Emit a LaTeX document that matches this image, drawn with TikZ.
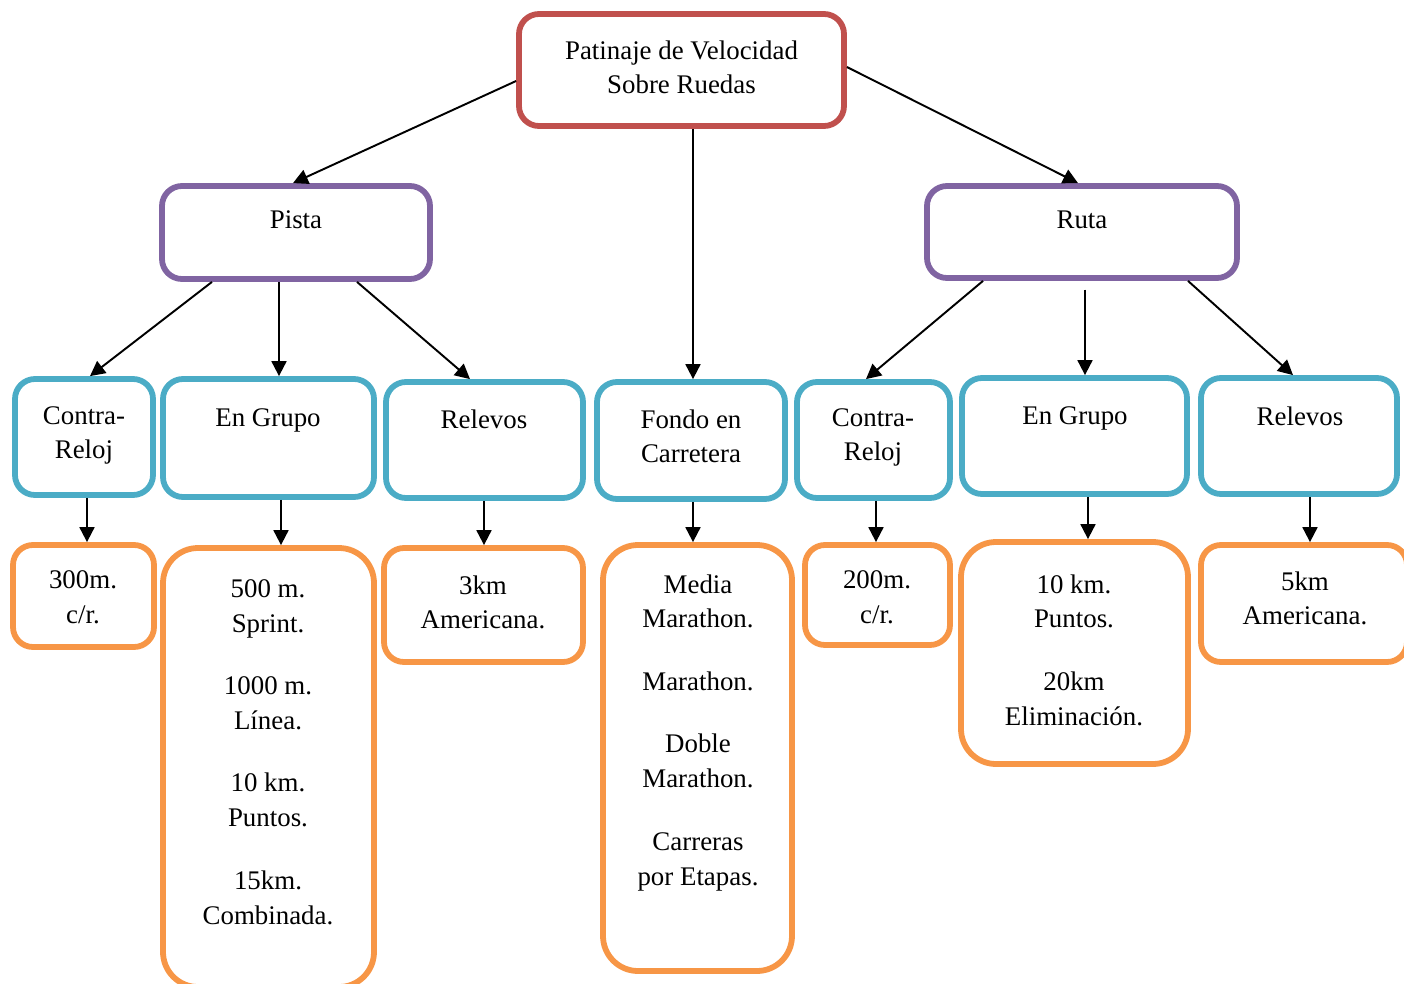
\documentclass[tikz,border=0pt]{standalone}
\usepackage{fontspec}
\setmainfont{Liberation Serif}
\usetikzlibrary{arrows.meta,fit}
\definecolor{cred}{HTML}{C0504D}
\definecolor{cpur}{HTML}{8064A2}
\definecolor{cblu}{HTML}{4BACC6}
\definecolor{cora}{HTML}{F79646}
\newcommand\mybox[6]{\node[#6, fit={(#2+3,#3+3) (#4-3,#5-3)}] (#1) {};}
\begin{document}
\begin{tikzpicture}[x=0.02cm,y=-0.02cm,
  boxbase/.style={draw, line width=3.3pt, inner sep=0pt, rounded corners=0.4cm},
  rootbox/.style={boxbase, draw=cred},
  midbox/.style={boxbase, draw=cpur},
  lowbox/.style={boxbase, draw=cblu},
  leafbox/.style={boxbase, draw=cora},
  bigleaf/.style={boxbase, draw=cora, rounded corners=0.7cm},
  txt/.style={anchor=north, align=center, inner sep=0pt, font=\fontsize{15.3}{19.8}\selectfont},
  arr/.style={line width=1.1pt, -{Triangle[length=8.5pt,width=8.5pt]}}]
\useasboundingbox (0,0) rectangle (1404,984);
% boxes
\mybox{root}{516}{11}{847}{129}{rootbox}
\mybox{pista}{159}{183}{433}{282}{midbox}
\mybox{ruta}{924}{183}{1240}{281}{midbox}
\mybox{cra}{12}{376}{156}{498}{lowbox}
\mybox{ega}{160}{376}{377}{500}{lowbox}
\mybox{rela}{383}{379}{586}{501}{lowbox}
\mybox{fondo}{594}{379}{788}{502}{lowbox}
\mybox{crb}{794}{379}{953}{501}{lowbox}
\mybox{egb}{959}{375}{1190}{497}{lowbox}
\mybox{relb}{1198}{375}{1400}{497}{lowbox}
\mybox{oa}{10}{542}{157}{650}{leafbox}
\mybox{ob}{160}{545}{377}{990}{bigleaf}
\mybox{oc}{381}{545}{586}{665}{leafbox}
\mybox{od}{600}{542}{795}{974}{bigleaf}
\mybox{oe}{802}{542}{953}{648}{leafbox}
\mybox{of}{958}{539}{1191}{767}{bigleaf}
\mybox{og}{1198}{542}{1410}{665}{leafbox}
% texts
\node[txt] (troot) at (681.5,40) {Patinaje de Velocidad\\Sobre Ruedas};
\node[txt] (tpista) at (296,210) {Pista};
\node[txt] (truta) at (1082,211) {Ruta};
\node[txt] (tcra) at (84,406) {Contra-\\Reloj};
\node[txt] (tega) at (268,408) {En Grupo};
\node[txt] (trela) at (484,409) {Relevos};
\node[txt] (tfondo) at (691,409) {Fondo en\\Carretera};
\node[txt] (tcrb) at (873,408) {Contra-\\Reloj};
\node[txt] (tegb) at (1075,406) {En Grupo};
\node[txt] (trelb) at (1300,406) {Relevos};
\node[txt] (toa) at (83,570) {300m.\\c/r.};
\node[txt] (tob) at (268,579) {500 m.\\Sprint.\\[15.8pt]1000 m.\\Línea.\\[15.8pt]10 km.\\Puntos.\\[15.8pt]15km.\\Combinada.};
\node[txt] (toc) at (483,575) {3km\\Americana.};
\node[txt] (tod) at (698,574) {Media\\Marathon.\\[15.8pt]Marathon.\\[15.8pt]Doble\\Marathon.\\[15.8pt]Carreras\\por Etapas.};
\node[txt] (toe) at (877,570) {200m.\\c/r.};
\node[txt] (tof) at (1074,574) {10 km.\\Puntos.\\[15.8pt]20km\\Eliminación.};
\node[txt] (tog) at (1305,571) {5km\\Americana.};
% connectors
\draw[arr] (root.west |- 0,81) -- (pista.north -| 293,0);
\draw[arr] (root.east |- 0,67) -- (ruta.north -| 1078,0);
\draw[arr] (root.south -| 693,0) -- (fondo.north -| 693,0);
\draw[arr] (pista.south -| 212,0) -- (cra.north -| 90,0);
\draw[arr] (pista.south -| 279,0) -- (ega.north -| 279,0);
\draw[arr] (pista.south -| 357,0) -- (rela.north -| 470,0);
\draw[arr] (ruta.south -| 983,0) -- (crb.north -| 866,0);
\draw[arr, shorten <=5pt] (ruta.south -| 1085,0) -- (egb.north -| 1085,0);
\draw[arr] (ruta.south -| 1188,0) -- (relb.north -| 1293,0);
\draw[arr] (cra.south -| 87,0) -- (oa.north -| 87,0);
\draw[arr] (ega.south -| 281,0) -- (ob.north -| 281,0);
\draw[arr] (rela.south -| 484,0) -- (oc.north -| 484,0);
\draw[arr] (fondo.south -| 693,0) -- (od.north -| 693,0);
\draw[arr] (crb.south -| 876,0) -- (oe.north -| 876,0);
\draw[arr] (egb.south -| 1088,0) -- (of.north -| 1088,0);
\draw[arr] (relb.south -| 1310,0) -- (og.north -| 1310,0);
\end{tikzpicture}
\end{document}
